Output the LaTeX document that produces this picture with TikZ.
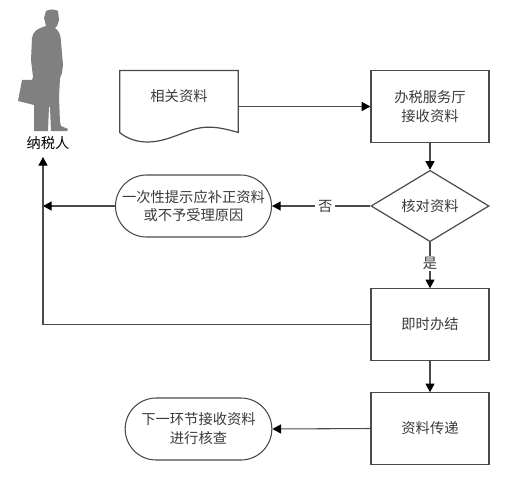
\documentclass[tikz,border=0pt]{standalone}
\usepackage{fontspec}
\setmainfont{Noto Sans CJK SC}
\usetikzlibrary{arrows.meta,shapes.geometric,shapes.misc,calc}
\definecolor{ln}{HTML}{4A4A4A}
\definecolor{tx}{HTML}{3A3A3A}
\tikzset{
  every node/.style={font=\fontsize{10.7pt}{14.2pt}\selectfont,text=tx,align=center,inner sep=0pt},
  box/.style={draw=ln,line width=0.9pt,minimum width=88.5pt,minimum height=53.5pt},
  choice/.style={draw=ln,line width=0.9pt,diamond,aspect=1.66,minimum width=88.5pt,minimum height=53.5pt},
  term/.style={draw=ln,line width=0.8pt,rounded rectangle,minimum height=46.5pt},
  link/.style={draw=ln,line width=0.8pt,-{Triangle[length=6.5pt,width=6.8pt,color=black]}},
  tag/.style={fill=white,inner xsep=2pt,inner ysep=1pt}
}
\begin{document}
\begin{tikzpicture}[x=0.75pt,y=-0.75pt]
\useasboundingbox (0,0) rectangle (505,481);
% taxpayer silhouette
\fill[black!50] (46,11) .. controls (49,9) and (55,9) .. (58,11) -- (59,20) -- (57,26) -- (55,28)
  .. controls (59,31) and (61,35) .. (61,42) -- (63,65) -- (62,73) -- (60,78) -- (59,98) -- (60,122)
  -- (61,126) -- (68,129) -- (67,131) -- (51,131) -- (50,108) -- (49,106) -- (48,131) -- (34,131)
  -- (34,105) -- (18,101) -- (22,80) -- (32,80) -- (33,77) -- (31,60) -- (32,38)
  .. controls (33,32) and (36,29) .. (46,26) -- (44,18) -- cycle;
\node[text=black] (person) at (48,143) {纳税人};
\coordinate (persontip) at (43,157);
% main nodes
\node[box] (hall) at (430,106.5) {办税服务厅\\接收资料};
\node[choice] (check) at (430,206) {核对资料};
\node[box] (done) at (430,324.5) {即时办结};
\node[box] (pass) at (430,428.5) {资料传递};
\node[term,minimum width=117pt] (reject) at (193.5,206) {一次性提示应补正资料\\或不予受理原因};
\node[term,minimum width=110pt] (next) at (198.5,429) {下一环节接收资料\\进行核查};
% document
\node[minimum width=88.5pt,minimum height=53.5pt] (doc) at (179,106.5) {};
\node at (179,96) {相关资料};
\draw[ln,line width=0.9pt] ($(doc.south west)+(0,-10)$) -- (doc.north west) -- (doc.north east) -- ($(doc.south east)+(0,-10)$)
  .. controls (222,128) and (210,125) .. (195,129)
  .. controls (178,134) and (165,142) .. (147,142)
  .. controls (136,142) and (126,138) .. ($(doc.south west)+(0,-10)$) -- cycle;
\coordinate (rejoin) at (43,206);
% connectors
\draw[link] (doc.east) -- (hall.west);
\draw[link] (hall.south) -- (check.north);
\draw[link] (check.west) -- node[tag,pos=0.46]{否} (reject.east);
\draw[link] (reject.west) -- (rejoin);
\draw[link] (check.south) -- node[tag,pos=0.46]{是} (done.north);
\draw[link] (done.west) -| (persontip);
\draw[link] (done.south) -- (pass.north);
\draw[link] (pass.west) -- (next.east);
\end{tikzpicture}
\end{document}
